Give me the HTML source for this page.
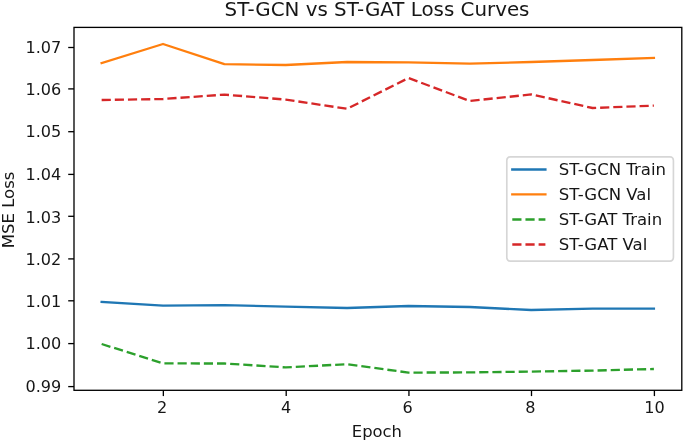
<!DOCTYPE html>
<html lang="en">
<head>
<meta charset="utf-8">
<title>ST-GCN vs ST-GAT Loss Curves</title>
<style>
html,body{margin:0;padding:0;background:#fff;}
body{width:685px;height:443px;overflow:hidden;}
svg{display:block;}
text{font-family:"DejaVu Sans","Liberation Sans",sans-serif;fill:#161616;}
.t10{font-size:16.54px;}
.tt{font-size:16.1px;}
.te{font-size:16.4px;}
.t12{font-size:19.85px;}
.sp{fill:none;stroke:#000;stroke-width:1.32;stroke-linecap:square;stroke-linejoin:miter;}
.tk{stroke:#000;stroke-width:1.32;fill:none;}
.ln{fill:none;stroke-width:2.35;stroke-linejoin:round;}
.s{stroke-linecap:square;}
.d{stroke-linecap:butt;stroke-dasharray:9.18 3.97;}
</style>
</head>
<body>
<svg width="685" height="443" viewBox="0 0 685 443">
<rect x="0" y="0" width="685" height="443" fill="#ffffff"/>
<text class="t12" x="377.0" y="16.3" text-anchor="middle">ST-GCN vs ST-GAT Loss Curves</text>
<clipPath id="ax"><rect x="74.0" y="27.4" width="607.80" height="362.90"/></clipPath>
<g clip-path="url(#ax)">
<polyline class="ln s" stroke="#1f77b4" points="101.65,302.00 163.01,305.60 224.37,305.10 285.73,306.60 347.09,308.00 408.45,306.00 469.81,307.00 531.17,310.00 592.53,308.60 653.89,308.60"/>
<polyline class="ln s" stroke="#ff7f0e" points="101.65,63.00 163.01,44.00 224.37,64.20 285.73,65.00 347.09,62.00 408.45,62.40 469.81,63.60 531.17,62.00 592.53,60.00 653.89,57.90"/>
<polyline class="ln d" stroke="#2ca02c" points="101.65,344.00 163.01,363.40 224.37,363.50 285.73,367.40 347.09,364.20 408.45,372.60 469.81,372.40 531.17,371.60 592.53,370.60 653.89,369.00"/>
<polyline class="ln d" stroke="#d62728" points="101.65,100.00 163.01,99.00 224.37,94.60 285.73,99.60 347.09,108.80 408.45,78.00 469.81,101.00 531.17,94.40 592.53,108.00 653.89,105.60"/>
</g>
<line class="tk" x1="68.21" y1="47.50" x2="74.0" y2="47.50"/>
<text class="tt" x="61.3" y="52.55" text-anchor="end">1.07</text>
<line class="tk" x1="68.21" y1="88.90" x2="74.0" y2="88.90"/>
<text class="tt" x="61.3" y="95.40" text-anchor="end">1.06</text>
<line class="tk" x1="68.21" y1="131.70" x2="74.0" y2="131.70"/>
<text class="tt" x="61.3" y="137.05" text-anchor="end">1.05</text>
<line class="tk" x1="68.21" y1="174.40" x2="74.0" y2="174.40"/>
<text class="tt" x="61.3" y="179.95" text-anchor="end">1.04</text>
<line class="tk" x1="68.21" y1="216.30" x2="74.0" y2="216.30"/>
<text class="tt" x="61.3" y="222.80" text-anchor="end">1.03</text>
<line class="tk" x1="68.21" y1="258.90" x2="74.0" y2="258.90"/>
<text class="tt" x="61.3" y="264.65" text-anchor="end">1.02</text>
<line class="tk" x1="68.21" y1="300.80" x2="74.0" y2="300.80"/>
<text class="tt" x="61.3" y="307.15" text-anchor="end">1.01</text>
<line class="tk" x1="68.21" y1="343.60" x2="74.0" y2="343.60"/>
<text class="tt" x="61.3" y="348.95" text-anchor="end">1.00</text>
<line class="tk" x1="68.21" y1="386.60" x2="74.0" y2="386.60"/>
<text class="tt" x="61.3" y="391.65" text-anchor="end">0.99</text>
<line class="tk" x1="163.35" y1="390.3" x2="163.35" y2="396.09"/>
<text class="tt" x="162.05" y="413.0" text-anchor="middle">2</text>
<line class="tk" x1="286.20" y1="390.3" x2="286.20" y2="396.09"/>
<text class="tt" x="286.20" y="413.0" text-anchor="middle">4</text>
<line class="tk" x1="408.94" y1="390.3" x2="408.94" y2="396.09"/>
<text class="tt" x="407.74" y="413.0" text-anchor="middle">6</text>
<line class="tk" x1="531.50" y1="390.3" x2="531.50" y2="396.09"/>
<text class="tt" x="530.35" y="413.0" text-anchor="middle">8</text>
<line class="tk" x1="654.40" y1="390.3" x2="654.40" y2="396.09"/>
<text class="tt" x="654.40" y="413.0" text-anchor="middle">10</text>
<rect class="sp" x="74.0" y="27.4" width="607.80" height="362.90"/>
<text class="te" x="376.9" y="436.8" text-anchor="middle">Epoch</text>
<text class="t10" transform="translate(14.0,209.9) rotate(-90)" text-anchor="middle">MSE Loss</text>
<rect x="506.8" y="156.9" width="166.60" height="104.20" rx="3.3" ry="3.3" fill="#ffffff" fill-opacity="0.8" stroke="#cccccc" stroke-opacity="0.8" stroke-width="1.65"/>
<line class="ln s" stroke="#1f77b4" x1="512.3" y1="169.5" x2="545.4" y2="169.5"/>
<text class="t10" x="558.7" y="175.45">ST-GCN Train</text>
<line class="ln s" stroke="#ff7f0e" x1="512.3" y1="194.4" x2="545.4" y2="194.4"/>
<text class="t10" x="558.7" y="200.4">ST-GCN Val</text>
<line class="ln d" stroke="#2ca02c" x1="512.3" y1="219.5" x2="545.4" y2="219.5"/>
<text class="t10" x="558.7" y="225.3">ST-GAT Train</text>
<line class="ln d" stroke="#d62728" x1="512.3" y1="244.45" x2="545.4" y2="244.45"/>
<text class="t10" x="558.7" y="250.2">ST-GAT Val</text>
</svg>
</body>
</html>
